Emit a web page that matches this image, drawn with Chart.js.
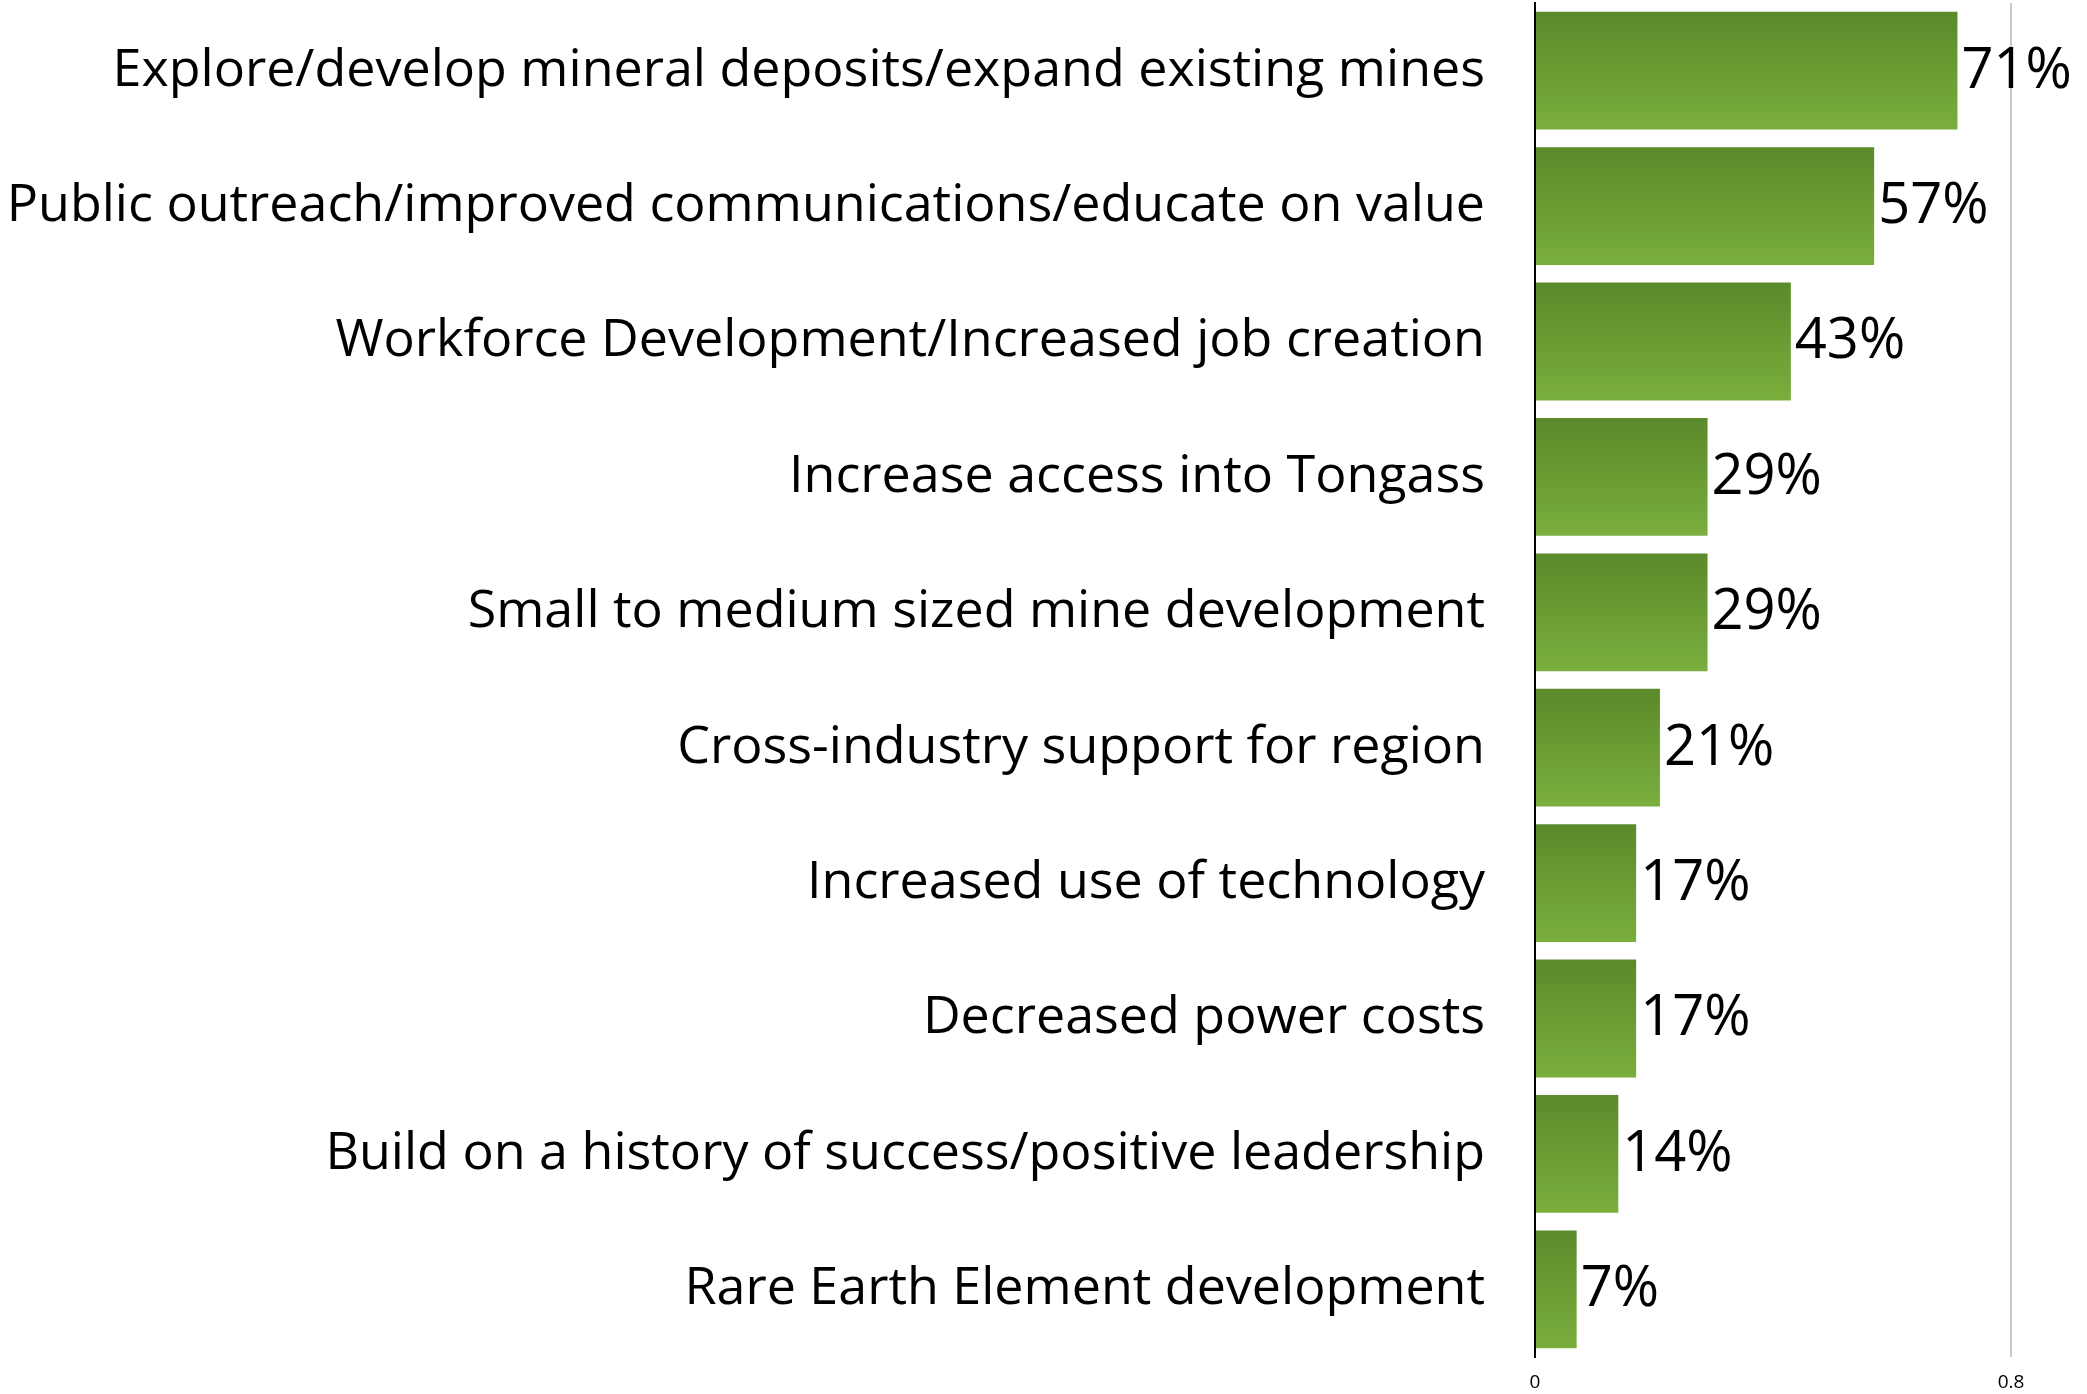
<!DOCTYPE html>
<html>
<head>
<meta charset="utf-8">
<script src="https://cdn.jsdelivr.net/npm/chart.js@4/dist/chart.umd.min.js"></script>
<style>
    html, body { margin: 0; padding: 0; background: #fff; }
    #wrap { width: 2087px; height: 1394px; }
</style>
</head>
<body>
<div id="wrap"><canvas id="chart"></canvas></div>
<script>
// Chart data
const categories = [
    'Explore/develop mineral deposits/expand existing mines',
    'Public outreach/improved communications/educate on value',
    'Workforce Development/Increased job creation',
    'Increase access into Tongass',
    'Small to medium sized mine development',
    'Cross-industry support for region',
    'Increased use of technology',
    'Decreased power costs',
    'Build on a history of success/positive leadership',
    'Rare Earth Element development'
];
const shares = [0.71, 0.57, 0.43, 0.29, 0.29, 0.21, 0.17, 0.17, 0.14, 0.07];
const xTicks = [0, 0.8];

const labelFont = '"Open Sans", "Noto Sans", sans-serif';
const labelSize = 52;
const valueSize = 56;

// Vertical gradient per bar: darker green on top, lighter at the bottom
const barGradient = {
    id: 'barGradient',
    beforeDatasetsDraw(chart) {
        const ctx = chart.ctx;
        chart.getDatasetMeta(0).data.forEach(bar => {
            const top = bar.y - bar.height / 2;
            const g = ctx.createLinearGradient(0, top, 0, top + bar.height);
            g.addColorStop(0, '#5a8a2a');
            g.addColorStop(1, '#7aae3d');
            bar.options.backgroundColor = g;
        });
    }
};

// Percent labels at the end of each bar
const valueLabels = {
    id: 'valueLabels',
    afterDatasetsDraw(chart) {
        const ctx = chart.ctx;
        ctx.save();
        ctx.font = `${valueSize}px ${labelFont}`;
        ctx.fillStyle = '#000';
        ctx.textAlign = 'left';
        ctx.textBaseline = 'middle';
        chart.getDatasetMeta(0).data.forEach((bar, i) => {
            ctx.fillText(Math.round(shares[i] * 100) + '%', bar.x + 4, bar.y + 1);
        });
        ctx.restore();
    }
};

new Chart(document.getElementById('chart'), {
    type: 'bar',
    data: {
        labels: categories,
        datasets: [{
            data: shares,
            // scriptable so every bar gets its own options object
            backgroundColor: () => '#6a9c33',
            borderWidth: 0,
            barPercentage: 0.87,
            categoryPercentage: 1.0
        }]
    },
    plugins: [barGradient, valueLabels],
    options: {
        indexAxis: 'y',
        responsive: true,
        maintainAspectRatio: false,
        animation: false,
        layout: { padding: { top: 3, right: 76, left: 0, bottom: 0 } },
        plugins: {
            legend: { display: false },
            tooltip: { enabled: false }
        },
        scales: {
            x: {
                min: 0,
                max: 0.8,
                afterBuildTicks: scale => {
                    scale.ticks = xTicks.map(v => ({ value: v }));
                },
                afterFit: scale => { scale.height = 37; },
                border: { display: false },
                grid: {
                    color: ctx => ctx.tick && ctx.tick.value === 0 ? 'rgba(0,0,0,0)' : '#c8c8c8',
                    lineWidth: 2,
                    drawTicks: false
                },
                ticks: {
                    color: '#000',
                    padding: 14,
                    font: { family: labelFont, size: 19 }
                }
            },
            y: {
                afterFit: scale => {
                    scale.width = 1535;
                    scale.paddingTop = 0;
                    scale.paddingBottom = 0;
                },
                border: { display: true, color: '#000', width: 2 },
                grid: { display: false, drawTicks: false },
                ticks: {
                    color: '#000',
                    padding: 50,
                    autoSkip: false,
                    font: { family: labelFont, size: labelSize }
                }
            }
        }
    }
});
</script>
</body>
</html>
